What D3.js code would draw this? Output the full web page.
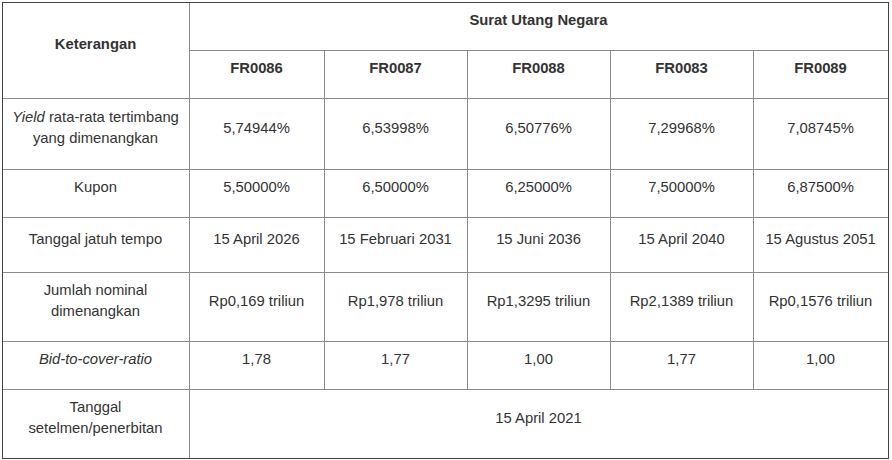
<!DOCTYPE html>
<html><head><meta charset="utf-8">
<script src="https://cdn.jsdelivr.net/npm/d3@7"></script>
<style>body{margin:0;background:#fff}text{font-family:"Liberation Sans",Arial,sans-serif;font-size:14.8px;fill:#333}</style>
</head><body>
<script>
var series = ['FR0086','FR0087','FR0088','FR0083','FR0089'];
var yieldVals = ['5,74944%','6,53998%','6,50776%','7,29968%','7,08745%'];
var kupon = ['5,50000%','6,50000%','6,25000%','7,50000%','6,87500%'];
var jatuhTempo = ['15 April 2026','15 Februari 2031','15 Juni 2036','15 April 2040','15 Agustus 2051'];
var nominal = ['Rp0,169 triliun','Rp1,978 triliun','Rp1,3295 triliun','Rp2,1389 triliun','Rp0,1576 triliun'];
var btc = ['1,78','1,77','1,00','1,77','1,00'];
var settlement = '15 April 2021';

var colX = [2,189,324,467,610,753,888];
var rowY = [2,50,98,169,217,272,341,389,458];

var svg = d3.select('body').append('svg').attr('width',892).attr('height',460);

// body rows: label lines (italic part marked), values
var rows = [
	{label:[[['Yield',true],[' rata-rata tertimbang',false]],[['yang dimenangkan',false]]], vals:yieldVals},
	{label:[[['Kupon',false]]], vals:kupon},
	{label:[[['Tanggal jatuh tempo',false]]], vals:jatuhTempo},
	{label:[[['Jumlah nominal',false]],[['dimenangkan',false]]], vals:nominal},
	{label:[[['Bid-to-cover-ratio',true]]], vals:btc}
];

var cx = function(i){ return (colX[i]+colX[i+1])/2; };

var addLines = function(x, yTop, yBot, lines, bold){
	var mid = (yTop+yBot)/2 - 5, lh = 21;
	lines.forEach(function(line, j){
		var t = svg.append('text').attr('x',x).attr('y', mid + (j-(lines.length-1)/2)*lh)
			.attr('text-anchor','middle').attr('dominant-baseline','middle')
			.style('font-weight', bold ? 'bold' : null);
		line.forEach(function(seg){
			t.append('tspan').text(seg[0]).style('font-style', seg[1] ? 'italic' : null);
		});
	});
};

// header
addLines(cx(0), rowY[0], rowY[2], [[['Keterangan',false]]], true);
addLines((colX[1]+colX[6])/2, rowY[0], rowY[1], [[['Surat Utang Negara',false]]], true);
series.forEach(function(s,i){ addLines(cx(i+1), rowY[1], rowY[2], [[[s,false]]], true); });

rows.forEach(function(r,k){
	addLines(cx(0), rowY[k+2], rowY[k+3], r.label, false);
	r.vals.forEach(function(v,i){ addLines(cx(i+1), rowY[k+2], rowY[k+3], [[[v,false]]], false); });
});
addLines(cx(0), rowY[7], rowY[8], [[['Tanggal',false]],[['setelmen/penerbitan',false]]], false);
addLines((colX[1]+colX[6])/2, rowY[7], rowY[8], [[[settlement,false]]], false);

// grid
var g = svg.append('g').attr('stroke','#8a8a8a').attr('stroke-width',1).attr('shape-rendering','crispEdges');
var hl = function(y,x1,x2){ g.append('line').attr('x1',x1).attr('x2',x2).attr('y1',y+0.5).attr('y2',y+0.5); };
var vl = function(x,y1,y2){ g.append('line').attr('x1',x+0.5).attr('x2',x+0.5).attr('y1',y1).attr('y2',y2); };
hl(rowY[1], colX[1], colX[6]);
for(var k=2;k<rowY.length-1;k++){ hl(rowY[k], colX[0], colX[6]); }
vl(colX[1], rowY[0], rowY[8]);
for(var i=2;i<colX.length-1;i++){ vl(colX[i], rowY[1], rowY[7]); }
svg.append('rect').attr('x',colX[0]+0.5).attr('y',rowY[0]+0.5)
	.attr('width',colX[6]-colX[0]).attr('height',rowY[8]-rowY[0])
	.attr('fill','none').attr('stroke','#444').attr('shape-rendering','crispEdges');
</script>
</body></html>
